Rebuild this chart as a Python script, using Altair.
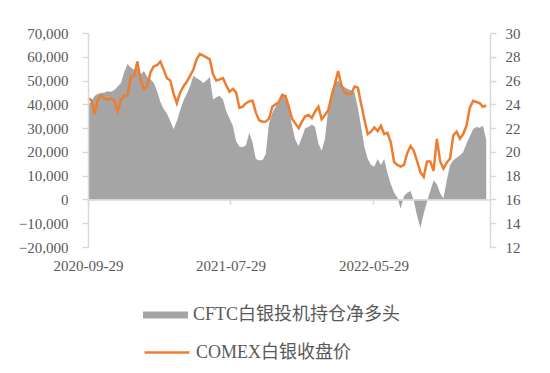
import altair as alt
import pandas as pd

start_date = "2020-09-29"
tick_dates = ["2020-09-29", "2021-07-29", "2022-05-29"]
left_ticks = list(range(-20000, 70001, 10000))
right_ticks = list(range(12, 31, 2))

net_long = [
    40000, 41000, 43500, 44500, 44800, 45000, 45500, 45300, 46000, 47500,
    49000, 53500, 57000, 55500, 54500, 55000, 52500, 54000, 51500, 50500,
    49000, 45500, 41000, 38000, 36000, 33000, 29500, 33000, 37500, 41500,
    44500, 47500, 52000, 51000, 50200, 49000, 50000, 51500, 42000, 43000,
    43600, 42000, 37000, 34000, 31000, 24500, 22300, 22000, 22800, 28000,
    24000, 17000, 16500, 16500, 19000, 32000, 36500, 39000, 41500, 44500,
    43500, 38500, 31000, 25000, 22500, 26300, 30000, 30500, 31500, 30500,
    23500, 20500, 25500, 38000, 45500, 48500, 50000, 48000, 47200, 46500,
    45800, 45000, 38500, 30500, 22000, 17000, 14500, 13700, 17000, 14500,
    17000, 11000, 6500, 2800, 800, -3900, 1500, 2800, 3500, -500,
    -7000, -12000, -6000, -1000, 3500, 8000, 6500, 2500, 500, 8000,
    14500, 16500, 17500, 18500, 20000, 23500, 26500, 29500, 30500, 30200,
    31000, 25000,
]

price = [
    24.5, 24.36, 23.2, 24.4, 24.75, 24.5, 24.4, 24.5, 24.3, 23.4,
    24.4, 24.7, 24.75, 26.3, 26.4, 27.6, 26.0, 25.3, 25.5, 26.7,
    27.2, 27.3, 27.6, 26.9, 26.2, 26.0, 24.9, 24.1, 25.0, 25.5,
    25.9, 26.4, 26.9, 27.8, 28.25, 28.1, 27.95, 27.78, 26.5, 26.0,
    26.1, 26.2, 25.6, 25.06, 25.3, 25.0, 23.7, 23.8, 24.1, 24.25,
    24.3, 23.3, 22.65, 22.54, 22.55, 22.8, 23.8, 24.0, 24.2, 24.8,
    24.7, 23.8, 22.8, 22.4, 22.0, 22.55, 23.0, 23.1, 22.85, 23.4,
    23.8, 22.75, 23.1, 23.5, 24.7, 25.7, 26.8, 25.6, 25.0, 24.9,
    24.9, 25.5, 25.4, 24.0, 22.7, 21.5, 21.7, 22.05, 21.75, 22.2,
    21.5, 21.6, 20.8, 19.15, 18.9, 18.76, 18.9, 19.9, 20.5, 20.1,
    19.2, 18.3, 17.9, 19.2, 19.2, 18.4, 21.1, 19.2, 18.6, 19.1,
    19.45, 21.4, 21.7, 21.1, 21.5, 22.2, 23.7, 24.3, 24.2, 24.1,
    23.8, 23.9,
]

series_area = "CFTC白银投机持仓净多头"
series_line = "COMEX白银收盘价"

dates = pd.date_range(start_date, periods=len(net_long), freq="7D").strftime("%Y-%m-%d")
df = pd.DataFrame({"date": dates, "net": net_long, "price": price})
df["s_area"] = series_area
df["s_line"] = series_line

FONT = "Liberation Serif, Noto Sans CJK SC"
TXT = "#595959"
AX = "#d9d9d9"


def dt(s):
    y, m, d = (int(v) for v in s.split("-"))
    return alt.DateTime(year=y, month=m, date=d, utc=True)


x_enc = alt.X(
    "date:T",
    title=None,
    scale=alt.Scale(type="utc", domain=[dt("2020-09-29"), dt("2023-02-01")]),
    axis=alt.Axis(
        values=[dt(s) for s in tick_dates],
        format="%Y-%m-%d",
        offset=-47.6,
        domainColor=AX,
        domainWidth=1.5,
        tickColor=AX,
        tickWidth=1.5,
        tickSize=5,
        labelPadding=54,
        labelBaseline="top",
        labelFont=FONT,
        labelFontSize=15,
        labelColor=TXT,
        grid=False,
        zindex=2,
        labelFlush=False,
        labelOverlap=False,
    ),
)

legend_common = dict(
    title=None,
    orient="none",
    legendX=55,
    symbolSize=2025,
    labelFont=FONT,
    labelFontSize=18,
    labelColor=TXT,
    labelOffset=5,
    labelLimit=400,
    padding=0,
)

area = (
    alt.Chart(df)
    .mark_area(opacity=1)
    .encode(
        x=x_enc,
        y=alt.Y(
            "net:Q",
            stack=None,
            title=None,
            scale=alt.Scale(domain=[-20000, 70000], nice=False),
            axis=alt.Axis(
                orient="left",
                values=left_ticks,
                format=",.0f",
                grid=False,
                domainColor=AX,
                domainWidth=1.5,
                tickColor=AX,
                tickWidth=1.5,
                tickSize=6,
                labelPadding=14,
                labelFont=FONT,
                labelFontSize=15,
                labelColor=TXT,
                zindex=1,
            ),
        ),
        fill=alt.Fill(
            "s_area:N",
            scale=alt.Scale(range=["#a5a5a5"]),
            legend=alt.Legend(
                legendY=259.5,
                symbolType="M-1,-0.16H1V0.16H-1Z",
                symbolStrokeWidth=0,
                symbolOpacity=1,
                **legend_common,
            ),
        ),
    )
)

line = (
    alt.Chart(df)
    .mark_line(strokeWidth=2.5)
    .encode(
        x=x_enc,
        y=alt.Y(
            "price:Q",
            title=None,
            scale=alt.Scale(domain=[12, 30], nice=False),
            axis=alt.Axis(
                orient="right",
                values=right_ticks,
                grid=False,
                domainColor=AX,
                domainWidth=1.5,
                tickColor=AX,
                tickWidth=1.5,
                tickSize=6,
                labelPadding=9,
                labelFont=FONT,
                labelFontSize=15,
                labelColor=TXT,
                zindex=1,
            ),
        ),
        stroke=alt.Stroke(
            "s_line:N",
            scale=alt.Scale(range=["#ed7d31"]),
            legend=alt.Legend(
                legendY=295.5,
                symbolType="stroke",
                symbolStrokeWidth=2.5,
                **legend_common,
            ),
        ),
    )
)

chart = (
    alt.layer(area, line)
    .resolve_scale(y="independent")
    .properties(
        width=402,
        height=214,
        padding={"left": 80, "top": 25, "right": 52, "bottom": 118},
        autosize=alt.AutoSizeParams(type="none"),
        background="white",
    )
    .configure_view(stroke=None)
)

chart.save("out.html", embed_options={"renderer": "svg", "actions": False})
